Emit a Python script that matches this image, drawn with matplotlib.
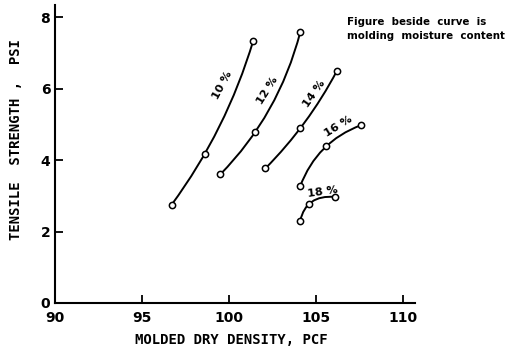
import numpy as np
import matplotlib.pyplot as plt
from matplotlib.path import Path
from matplotlib.patches import PathPatch

# --- Datos: densidad seca (pcf) y resistencia a tracción (psi) ---
moisture_labels = ['10 %', '12 %', '14 %', '16 %', '18 %']
density_10 = [96.7, 98.6, 101.4]
strength_10 = [2.75, 4.17, 7.35]
density_12 = [99.5, 101.5, 104.1]
strength_12 = [3.60, 4.78, 7.58]
density_14 = [102.1, 104.1, 106.2]
strength_14 = [3.77, 4.89, 6.49]
density_16 = [104.1, 105.6, 107.6]
strength_16 = [3.27, 4.39, 4.98]
density_18 = [104.1, 104.6, 106.1]
strength_18 = [2.30, 2.77, 2.97]

# posición y giro de cada etiqueta de humedad
label_pos = [(99.6, 6.1), (102.2, 5.95), (104.9, 5.85), (106.3, 4.95), (105.4, 3.12)]
label_rot = [62, 58, 55, 32, 8]

x_ticks = [90, 95, 100, 105, 110]
y_ticks = [0, 2, 4, 6, 8]

series = [(density_10, strength_10), (density_12, strength_12), (density_14, strength_14),
          (density_16, strength_16), (density_18, strength_18)]


# Curva cuadrática que pasa por los tres puntos medidos (parámetro por longitud de cuerda en píxeles)
def smooth_curve(ax, xs, ys):
    pts = ax.transData.transform(np.column_stack([xs, ys]))
    d01 = np.hypot(*(pts[1] - pts[0]))
    d12 = np.hypot(*(pts[2] - pts[1]))
    t = d01 / (d01 + d12)
    p0, p1, p2 = np.array([xs[0], ys[0]]), np.array([xs[1], ys[1]]), np.array([xs[2], ys[2]])
    ctrl = (p1 - (1 - t) ** 2 * p0 - t ** 2 * p2) / (2 * t * (1 - t))
    path = Path([p0, ctrl, p2], [Path.MOVETO, Path.CURVE3, Path.CURVE3])
    ax.add_patch(PathPatch(path, fill=False, lw=1.4, color='black', zorder=2))


fig = plt.figure(figsize=(5.06, 3.49), dpi=100)
ax = fig.add_axes([0.109, 0.132, 0.711, 0.854])
ax.set_xlim(90, 110.7)
ax.set_ylim(0, 8.35)

for (xs, ys), lab, pos, rot in zip(series, moisture_labels, label_pos, label_rot):
    smooth_curve(ax, xs, ys)
    ax.plot(xs, ys, 'o', ms=4.5, mfc='white', mec='black', mew=1.1, zorder=3)
    ax.text(pos[0], pos[1], lab, rotation=rot, ha='center', va='center',
            fontsize=8, fontweight='bold')

ax.set_xticks(x_ticks)
ax.set_yticks(y_ticks)
ax.tick_params(direction='in', length=6, width=1.3, labelsize=10)
ax.tick_params(axis='x', pad=6)
for lbl in ax.get_xticklabels() + ax.get_yticklabels():
    lbl.set_fontweight('bold')
for s in ['top', 'right']:
    ax.spines[s].set_visible(False)
for s in ['left', 'bottom']:
    ax.spines[s].set_linewidth(1.5)

ax.set_xlabel('MOLDED DRY DENSITY, PCF', fontsize=10, fontweight='bold',
              family='DejaVu Sans Mono')
ax.set_ylabel('TENSILE  STRENGTH ,  PSI', fontsize=10, fontweight='bold',
              family='DejaVu Sans Mono')
ax.xaxis.set_label_coords(0.49, -0.1)
ax.yaxis.set_label_coords(-0.09, 0.55)

fig.text(0.686, 0.95, 'Figure  beside  curve  is\nmolding  moisture  content',
         fontsize=7.4, fontweight='bold', ha='left', va='top', linespacing=1.4)

fig.savefig('out.png', dpi=100)
